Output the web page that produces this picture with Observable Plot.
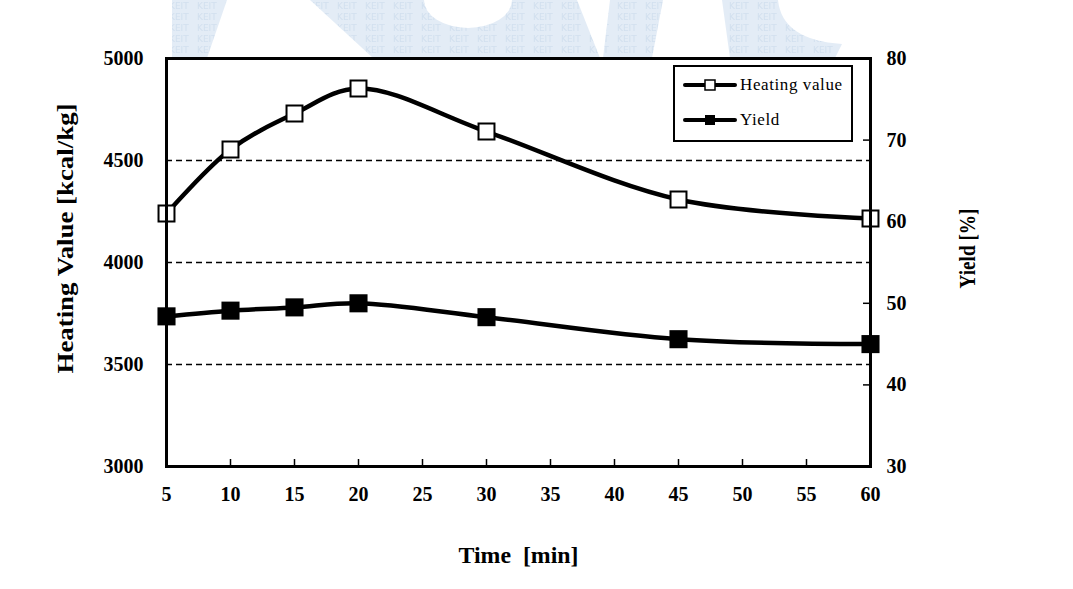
<!DOCTYPE html>
<html><head><meta charset="utf-8">
<script src="https://cdn.jsdelivr.net/npm/d3@7"></script>
<script src="https://cdn.jsdelivr.net/npm/@observablehq/plot@0.6"></script>
<style>
body{margin:0;background:#fff;}
#wrap{position:relative;width:1073px;height:589px;overflow:hidden;background:#fff;}
#wm{position:absolute;left:0;top:0;}
#chart{position:absolute;left:0;top:0;}
#legend{position:absolute;left:673px;top:65px;width:176px;height:73px;border:2px solid #000;background:#fff;
  font-family:"Liberation Serif","Times New Roman",serif;font-size:17px;}
.row{position:absolute;left:8px;height:20px;display:flex;align-items:center;}
.row svg{display:block;}
.row span{margin-left:3px;letter-spacing:0.6px;}
</style>
</head><body>
<div id="wrap">
  <svg id="wm" width="1073" height="58">
    <defs>
      <pattern id="keit" width="28" height="11" patternUnits="userSpaceOnUse">
        <rect width="28" height="11" fill="#e3ecf6"/>
        <text x="1" y="9" font-family="DejaVu Sans, sans-serif" font-size="9" fill="#d2e0ef">KEIT</text>
      </pattern>
      <mask id="hole"><rect width="1073" height="58" fill="#fff"/><ellipse cx="468" cy="0" rx="44" ry="28" fill="#000"/></mask>
    </defs>
    <g fill="url(#keit)">
      <path d="M172,0 L227,0 L207,58 L172,58 Z"/>
      <path d="M310,0 L577,0 L600,58 L373,58 Z" mask="url(#hole)"/>
      <path d="M610,0 L663,0 L652,58 L603,58 Z"/>
      <path d="M722,0 L778,0 Q782,40 842,44 L835,58 L730,58 Z"/>
    </g>
  </svg>
  <div id="chart"></div>
  <div id="legend"></div>
</div>
<script>
// ---- data ----
const times = [5, 10, 15, 20, 30, 45, 60];
const heatingValue = [4240, 4554, 4730, 4853, 4642, 4309, 4216];
const yieldPct = [48.4, 49.1, 49.5, 50.0, 48.3, 45.6, 45.0];
const xTicks = [5, 10, 15, 20, 25, 30, 35, 40, 45, 50, 55, 60];
const leftTicks = [3000, 3500, 4000, 4500, 5000];
const rightTicks = [30, 40, 50, 60, 70, 80];
const gridValues = [3500, 4000, 4500];
const seriesNames = ["Heating value", "Yield"];
const xTitle = "Time  [min]";
const leftTitle = "Heating Value [kcal/kg]";
const rightTitle = "Yield [%]";

const xDomain = [5, 60];
const leftDomain = [3000, 5000];
const rightDomain = [30, 80];
// map a right-axis (yield) value onto the left-axis scale
const toLeft = v => leftDomain[0] + (v - rightDomain[0]) * (leftDomain[1] - leftDomain[0]) / (rightDomain[1] - rightDomain[0]);
const fromLeft = v => rightDomain[0] + (v - leftDomain[0]) * (rightDomain[1] - rightDomain[0]) / (leftDomain[1] - leftDomain[0]);

const heatData = times.map((t, i) => ({t, v: heatingValue[i]}));
const yieldData = times.map((t, i) => ({t, v: toLeft(yieldPct[i])}));

const serif = "'Liberation Serif','Times New Roman',serif";

const plot = Plot.plot({
  width: 1073, height: 589,
  marginLeft: 166, marginRight: 203, marginTop: 58, marginBottom: 123,
  style: {fontFamily: serif, fontSize: "20px", fontWeight: "bold", background: "transparent", color: "#000", overflow: "visible"},
  x: {domain: xDomain},
  y: {domain: leftDomain},
  marks: [
    Plot.frame({fill: "white"}),
    Plot.ruleY(gridValues, {y: d => d, stroke: "#000", strokeWidth: 1.3, strokeDasharray: "6,4"}),
    // inward ticks on x axis
    Plot.ruleX(xTicks, {x: d => d, y1: () => leftDomain[0], y2: () => leftDomain[0], insetBottom: 7, stroke: "#000", strokeWidth: 1.5}),
    // inward ticks on right axis
    Plot.ruleY(rightTicks, {y: d => toLeft(d), x1: () => xDomain[1], x2: () => xDomain[1], insetRight: 7, stroke: "#000", strokeWidth: 1.5}),
    Plot.line(heatData, {x: "t", y: "v", curve: "catmull-rom", stroke: "#000", strokeWidth: 4.5}),
    Plot.line(yieldData, {x: "t", y: "v", curve: "catmull-rom", stroke: "#000", strokeWidth: 4.5}),
    Plot.dot(heatData, {x: "t", y: "v", symbol: "square", r: 9, fill: "white", stroke: "#000", strokeWidth: 2}),
    Plot.dot(yieldData, {x: "t", y: "v", symbol: "square", r: 10.2, fill: "#000", stroke: "none"}),
    Plot.frame({stroke: "#000", strokeWidth: 3}),
    Plot.axisX({ticks: xTicks, tickSize: 0, tickPadding: 20, label: null, tickFormat: d => String(d), fontSize: 20, letterSpacing: 0.5}),
    Plot.axisY({anchor: "left", ticks: leftTicks, tickSize: 0, tickPadding: 23, label: null, tickFormat: d => String(d), fontSize: 20, letterSpacing: 1.5}),
    Plot.axisY({anchor: "right", ticks: rightTicks.map(toLeft), tickSize: 0, tickPadding: 16, label: null, tickFormat: d => String(Math.round(fromLeft(d))), fontSize: 20, letterSpacing: 1.5}),
    Plot.text([xTitle], {frameAnchor: "bottom", dy: 96, fontSize: 23, fontWeight: "bold", fontFamily: serif, textAnchor: "middle"}),
    Plot.text([leftTitle], {frameAnchor: "left", dx: -101, dy: -24, rotate: -90, fontSize: 24, fontWeight: "bold", fontFamily: serif, textAnchor: "middle"}),
    Plot.text([rightTitle], {frameAnchor: "right", dx: 97, dy: -14, rotate: -90, fontSize: 23, fontWeight: "bold", fontFamily: serif, textAnchor: "middle"})
  ]
});
// match the stretched/condensed lettering of the original titles
const titleLengths = {[xTitle]: 120, [leftTitle]: 270, [rightTitle]: 80};
plot.querySelectorAll("text").forEach(t => {
  const L = titleLengths[t.textContent];
  if (L) { t.setAttribute("textLength", L); t.setAttribute("lengthAdjust", "spacingAndGlyphs"); t.setAttribute("xml:space", "preserve"); t.style.whiteSpace = "pre"; }
});
document.getElementById("chart").appendChild(plot);

// legend
const legend = document.getElementById("legend");
seriesNames.forEach((name, i) => {
  const row = document.createElement("div");
  row.className = "row";
  row.style.top = (i === 0 ? 8 : 43) + "px";
  const filled = i === 1;
  row.innerHTML = `<svg width="54" height="20"><line x1="2" y1="10" x2="52" y2="10" stroke="#000" stroke-width="4" stroke-linecap="round"/>` +
    `<rect x="22" y="5" width="10" height="10" fill="${filled ? "#000" : "#fff"}" stroke="#000" stroke-width="${filled ? 0 : 1.5}"/></svg><span>${name}</span>`;
  legend.appendChild(row);
});
</script>
</body></html>
